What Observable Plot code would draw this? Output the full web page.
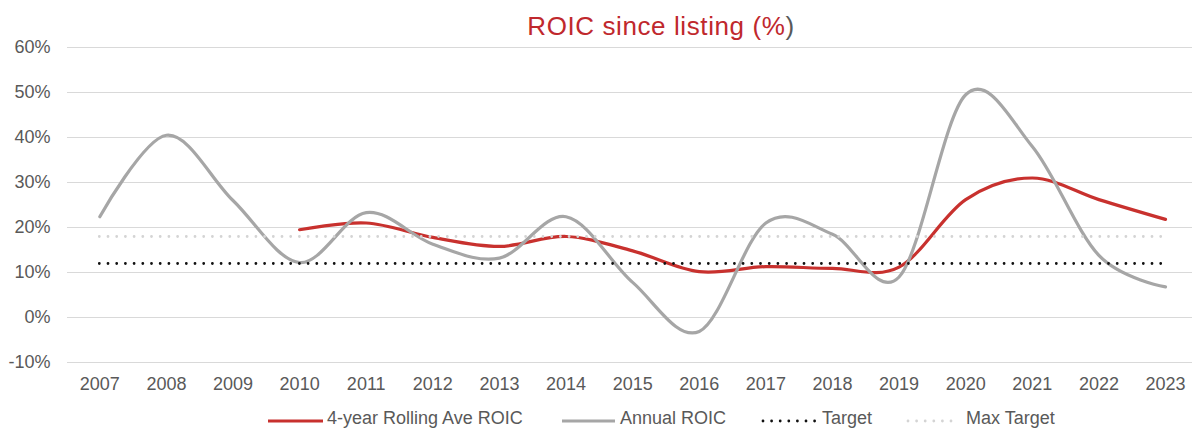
<!DOCTYPE html>
<html>
<head>
<meta charset="utf-8">
<script src="https://cdn.jsdelivr.net/npm/d3@7"></script>
<script src="https://cdn.jsdelivr.net/npm/@observablehq/plot@0.6"></script>
<style>
  html, body { margin: 0; padding: 0; background: #fff; }
  #wrap { position: relative; width: 1192px; height: 429px; overflow: hidden; font-family: "Liberation Sans", Arial, sans-serif; }
  #title { position: absolute; top: 11px; left: 0; width: 1322px; text-align: center; font-size: 26px; letter-spacing: 0.6px; color: #c0282d; white-space: nowrap; }
  #title .p { color: #595959; }
  #chart { position: absolute; top: 0; left: 0; }
  .leg { position: absolute; top: 408px; font-size: 18px; color: #595959; white-space: nowrap; line-height: 21px; }
  .sw { position: absolute; top: 418px; }
</style>
</head>
<body>
<div id="wrap">
  <div id="chart"></div>
  <div id="title">ROIC since listing (%<span class="p">)</span></div>
</div>
<script>
const years = [2007, 2008, 2009, 2010, 2011, 2012, 2013, 2014, 2015, 2016, 2017, 2018, 2019, 2020, 2021, 2022, 2023];
const annualROIC = [22.4, 40.5, 26, 12.2, 23.3, 16.3, 13.2, 22.4, 7.8, -3.1, 21, 18.5, 9, 49.5, 38, 13.8, 6.8];
const rollingYears = [2010, 2011, 2012, 2013, 2014, 2015, 2016, 2017, 2018, 2019, 2020, 2021, 2022, 2023];
const rollingROIC = [19.5, 21, 17.8, 15.8, 18, 14.8, 10.2, 11.3, 10.9, 11.2, 26.2, 31, 26.2, 21.8];
const target = 12;
const maxTarget = 18;
const yTicks = [-10, 0, 10, 20, 30, 40, 50, 60];
const seriesNames = ["4-year Rolling Ave ROIC", "Annual ROIC", "Target", "Max Target"];

const RED = "#c8312e", GREY = "#a6a6a6", BLACK = "#111111", LIGHT = "#d4d4d4", TXT = "#595959";

const annual = years.map((y, i) => ({year: y, v: annualROIC[i]}));
const rolling = rollingYears.map((y, i) => ({year: y, v: rollingROIC[i]}));

const plot = Plot.plot({
  width: 1192,
  height: 400,
  marginTop: 47,
  marginBottom: 38,
  marginLeft: 67,
  marginRight: 0,
  style: {fontFamily: "'Liberation Sans', Arial, sans-serif", fontSize: "18px", color: TXT, background: "#fff"},
  x: {type: "linear", domain: [2006.5, 2023.5], range: [66, 1198.3], label: null},
  y: {domain: [-10, 60], label: null},
  marks: [
    Plot.ruleY(yTicks, {stroke: "#d9d9d9", strokeWidth: 1.2}),
    Plot.axisX({ticks: years, tickFormat: d => String(d), tickSize: 0, tickPadding: 15, fill: TXT, fontSize: 18}),
    Plot.axisY({ticks: yTicks, tickFormat: d => d + "%", tickSize: 0, tickPadding: 17, fill: TXT, fontSize: 18}),
    Plot.line(rolling, {x: "year", y: "v", stroke: RED, strokeWidth: 3.2, curve: "cardinal"}),
    Plot.line(annual, {x: "year", y: "v", stroke: GREY, strokeWidth: 3.2, curve: "cardinal"}),
    Plot.ruleY([target], {x1: years[0], x2: years[years.length - 1], stroke: BLACK, strokeWidth: 2.8, strokeDasharray: "0 8.7", strokeLinecap: "round"}),
    Plot.ruleY([maxTarget], {x1: years[0], x2: years[years.length - 1], stroke: LIGHT, strokeWidth: 2.8, strokeDasharray: "0 8.7", strokeLinecap: "round"})
  ]
});
document.getElementById("chart").appendChild(plot);

// legend
const wrap = document.getElementById("wrap");
const legendItems = [
  {name: seriesNames[0], x: 268, w: 55, stroke: RED, dash: null, tx: 327},
  {name: seriesNames[1], x: 562, w: 53, stroke: GREY, dash: null, tx: 620},
  {name: seriesNames[2], x: 763, w: 52, stroke: BLACK, dash: "0 8.6", tx: 822},
  {name: seriesNames[3], x: 908, w: 50, stroke: LIGHT, dash: "0 8.6", tx: 966}
];
legendItems.forEach(it => {
  const ns = "http://www.w3.org/2000/svg";
  const s = document.createElementNS(ns, "svg");
  s.setAttribute("width", it.w + 4);
  s.setAttribute("height", 6);
  s.setAttribute("class", "sw");
  s.style.left = (it.x - 2) + "px";
  const l = document.createElementNS(ns, "line");
  l.setAttribute("x1", 2); l.setAttribute("x2", it.w + 2);
  l.setAttribute("y1", 3); l.setAttribute("y2", 3);
  l.setAttribute("stroke", it.stroke);
  l.setAttribute("stroke-width", it.dash ? 2.8 : 3.2);
  if (it.dash) { l.setAttribute("stroke-dasharray", it.dash); l.setAttribute("stroke-linecap", "round"); }
  s.appendChild(l);
  wrap.appendChild(s);
  const t = document.createElement("div");
  t.className = "leg";
  t.style.left = it.tx + "px";
  t.textContent = it.name;
  wrap.appendChild(t);
});
</script>
</body>
</html>
